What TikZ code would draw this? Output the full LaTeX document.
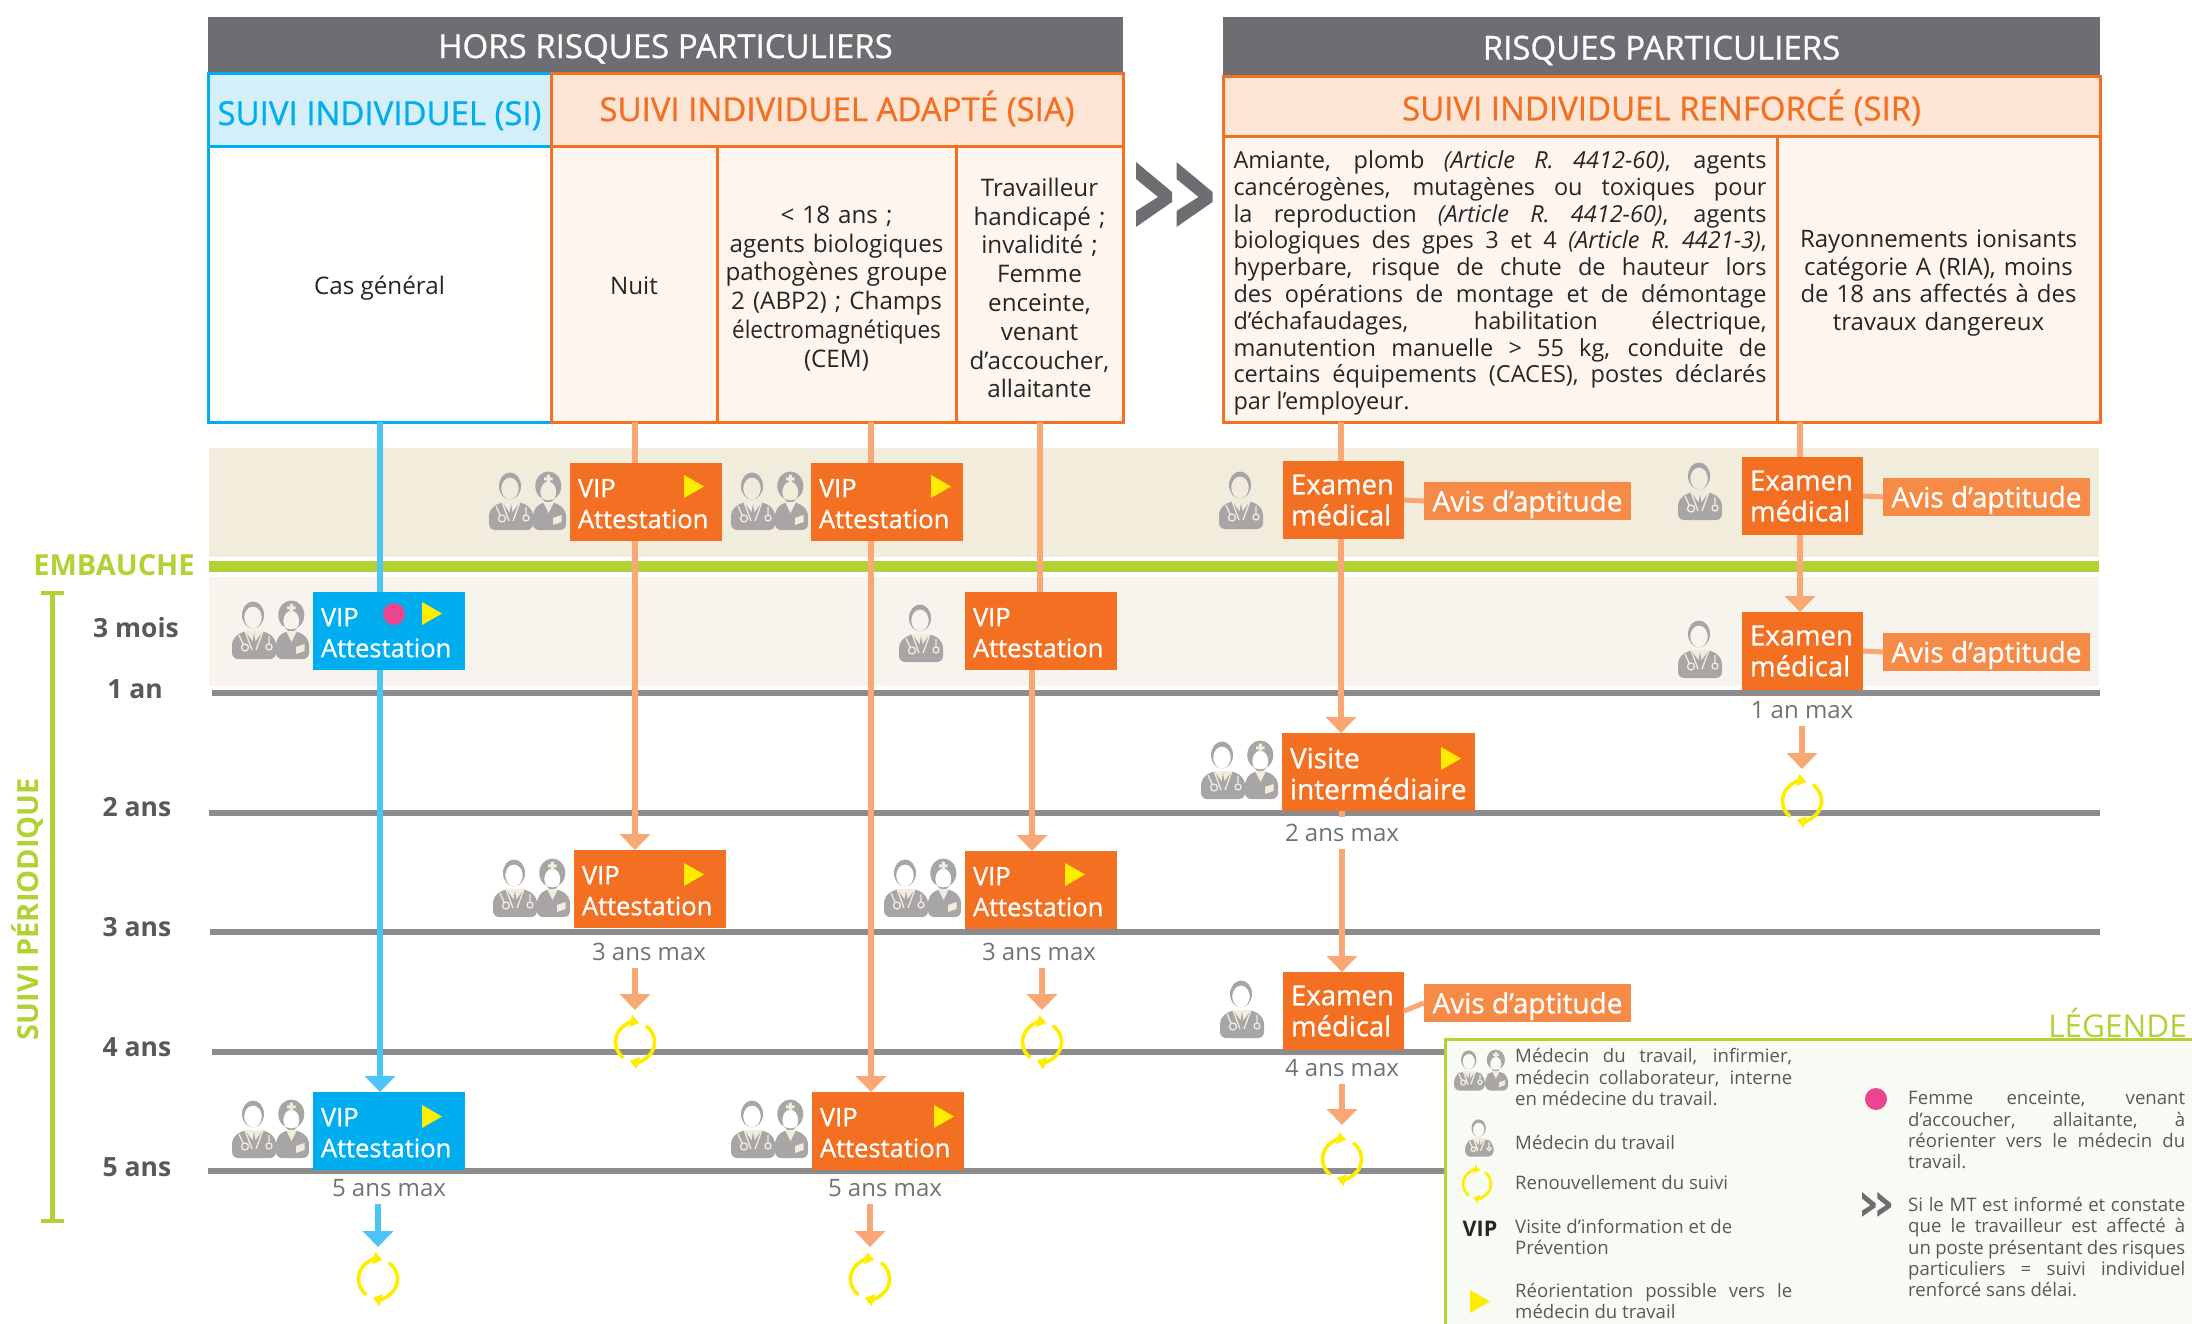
\documentclass[tikz,border=0pt]{standalone}
\usepackage{fontspec}
\setmainfont{Open Sans}
\newfontfamily\semi[FakeBold=0.8]{Open Sans}
\usetikzlibrary{arrows.meta}
\definecolor{greyhead}{HTML}{6D6E71}
\definecolor{orangeD}{HTML}{F36F21}
\definecolor{orangeM}{HTML}{F68B47}
\definecolor{orangeL}{HTML}{F9A875}
\definecolor{blueD}{HTML}{00AEEF}
\definecolor{blueL}{HTML}{4CC5F5}
\definecolor{blueP}{HTML}{D4EFFA}
\definecolor{creamA}{HTML}{F1ECDC}
\definecolor{creamB}{HTML}{F6F4EC}
\definecolor{peachA}{HTML}{FDE5D5}
\definecolor{peachB}{HTML}{FEF5EE}
\definecolor{greenL}{HTML}{B0D235}
\definecolor{legendbg}{HTML}{F8FBF3}
\definecolor{ruleG}{HTML}{8C8C8F}
\definecolor{iconG}{HTML}{A7A5A6}
\definecolor{textG}{HTML}{58595B}
\definecolor{markY}{HTML}{FFED00}
\definecolor{markP}{HTML}{EC4590}
\tikzset{
 lowtext/.style={execute at begin node={\rule{0pt}{#1em}}},
 headbox/.style={fill=greyhead,text=white,anchor=north west,inner sep=0pt,outer sep=0pt,lowtext=.93,font=\semi\fontsize{33}{38}\selectfont},
 cellbox/.style={draw=orangeD,line width=3pt,fill=peachB,text=black!85,anchor=north west,inner sep=0pt,outer sep=0pt,align=center,lowtext=1.05,font=\fontsize{24.2}{28.8}\selectfont},
 titlebox/.style={draw=orangeD,line width=3pt,fill=peachA,text=orangeD,anchor=north west,inner sep=0pt,outer sep=0pt,align=center,execute at begin node={\rule[-.29em]{0pt}{.93em}},font=\semi\fontsize{33}{38}\selectfont},
 vipbox/.style={fill=orangeD,text=white,anchor=north west,minimum width=152pt,minimum height=78pt,text width=136pt,inner sep=0pt,outer sep=0pt,align=left,lowtext=.85,font=\semi\fontsize{25.5}{31}\selectfont},
 exambox/.style={fill=orangeD,text=white,anchor=north west,minimum width=121pt,minimum height=78pt,text width=105pt,inner sep=0pt,outer sep=0pt,align=left,lowtext=.72,font=\semi\fontsize{27.5}{31}\selectfont},
 avisbox/.style={fill=orangeM,text=white,anchor=north west,minimum width=207pt,minimum height=38pt,inner sep=0pt,outer sep=0pt,lowtext=.98,font=\semi\fontsize{28}{31}\selectfont},
 maxlabel/.style={text=textG!85,inner sep=0pt,minimum height=32pt,font=\fontsize{24}{27}\selectfont},
 yearlabel/.style={text=textG,inner sep=0pt,font=\bfseries\fontsize{26.5}{30}\selectfont},
 legtext/.style={text=textG,anchor=west,inner sep=0pt,text width=277pt,align=justify,font=\fontsize{18.6}{21.3}\selectfont},
 orangeline/.style={draw=orangeL,line width=6pt},
 blueline/.style={draw=blueL,line width=6pt},
 orangearrow/.style={orangeline,-{Triangle[length=16pt,width=30pt]}},
 bluearrow/.style={blueline,-{Triangle[length=16pt,width=30pt]}},
 pics/playmark/.style={code={\fill[markY] (0,0)--(20,11.5)--(0,23)--cycle;}},
 pics/doctor/.style={code={
  \fill[iconG,even odd rule] (21,14) ellipse [x radius=11,y radius=13.5] (21,16.5) ellipse [x radius=8.8,y radius=11];
  \fill[iconG,rounded corners=6pt] (0,58)--(0,38)--(11,30)--(33,30)--(44,38)--(44,58)--cycle;
  \fill[creamA] (13,30)--(22,42)--(31,30)--cycle;
  \fill[iconG] (22,32)--(24,44)--(22,49)--(20,44)--cycle;
  \draw[creamA,line width=1.3pt] (13,30)--(20,49) (31,30)--(24,49) (7,34)--(11,43) (13,46.5) circle [radius=3.5] (37,35)--(37,42) (37,46) circle [radius=3];
 }},
 pics/nurse/.style={code={
  \fill[iconG,even odd rule] (18.3,14) ellipse [x radius=13,y radius=14.5] (18.3,20) ellipse [x radius=8,y radius=10.5];
  \fill[creamA] (16.8,2.5) rectangle (19.8,11) (14,5.3) rectangle (22.6,8.3);
  \fill[iconG,rounded corners=6pt] (3,58)--(3,38)--(12,30)--(25,30)--(36,38)--(36,58)--cycle;
  \fill[creamA] (13,30)--(18.5,41)--(24,30)--cycle;
  \fill[creamA] (23,46)--(31.5,43)--(31.5,50)--(23,53)--cycle;
 }},
 pics/staffpair/.style={code={
  \pic at (0,0) {doctor};
  \pic at (41,0) {nurse};
 }},
 pics/renew/.style={code={
  \draw[markY,line width=3.7pt,line cap=round,-{Triangle[length=9pt,width=12pt]}] (129:19.5) arc [start angle=129,end angle=283,radius=19.5];
  \draw[markY,line width=3.7pt,line cap=round,-{Triangle[length=9pt,width=12pt]}] (307:19.5) arc [start angle=307,end angle=466,radius=19.5];
 }},
 pics/renewkey/.style={code={
  \draw[markY,line width=2.6pt,line cap=round,-{Triangle[length=6pt,width=8.5pt]}] (129:14) arc [start angle=129,end angle=283,radius=14];
  \draw[markY,line width=2.6pt,line cap=round,-{Triangle[length=6pt,width=8.5pt]}] (307:14) arc [start angle=307,end angle=466,radius=14];
 }},
 pics/chevrons/.style={code={
  \fill[greyhead] (0,0)--(36,30)--(36,40)--(0,65)--(0,49)--(22,35)--(0,17)--cycle;
  \fill[greyhead] (40.5,0)--(76.5,30)--(76.5,40)--(40.5,65)--(40.5,49)--(62.5,35)--(40.5,17)--cycle;
 }},
}
\begin{document}
\begin{tikzpicture}[x=1pt,y=-1pt]
 \useasboundingbox (0,0) rectangle (2192,1324);
 \fill[creamA] (209,448) rectangle (2099,557);
 \fill[creamB] (209,577) rectangle (2099,686);
 \fill[greenL] (209,561) rectangle (2099,572);
 \fill[ruleG] (212,690) rectangle (2100,696);
 \fill[ruleG] (209,810) rectangle (2100,816);
 \fill[ruleG] (210,929) rectangle (2100,935);
 \fill[ruleG] (212,1049) rectangle (1445,1055);
 \fill[ruleG] (208,1168) rectangle (1445,1174);

 \node[headbox,minimum width=915pt,minimum height=57pt] (headA) at (208,17) {HORS RISQUES PARTICULIERS};
 \node[headbox,minimum width=877pt,minimum height=60pt] (headB) at (1223,17) {RISQUES PARTICULIERS};

 \node[titlebox,lowtext=1.17,draw=blueD,fill=blueP,text=blueD,minimum width=343pt,minimum height=73pt] (titleSI) at (208,74) {SUIVI INDIVIDUEL (SI)};
 \node[titlebox,minimum width=572pt,minimum height=73pt] (titleSIA) at (551,74) {SUIVI INDIVIDUEL ADAPTÉ (SIA)};
 \node[titlebox,lowtext=1.1,minimum width=877pt,minimum height=60pt] (titleSIR) at (1223,77) {SUIVI INDIVIDUEL RENFORCÉ (SIR)};

 \node[cellbox,draw=blueD,fill=white,minimum width=343pt,minimum height=275pt] (cellSI) at (208,147) {Cas général};
 \node[cellbox,execute at begin node={\rule[-.21em]{0pt}{.21em}},minimum width=166pt,minimum height=275pt] (cellA) at (551,147) {Nuit};
 \node[cellbox,text width=235pt,minimum width=239pt,minimum height=275pt] (cellB) at (717,147) {< 18 ans ;\\agents biologiques\\pathogènes groupe\\2 (ABP2) ; Champs\\\scalebox{.93}[1]{électromagnétiques}\\(CEM)};
 \node[cellbox,text width=163pt,minimum width=167pt,minimum height=275pt] (cellC) at (956,147) {Travailleur\\handicapé ;\\invalidité ;\\Femme\\enceinte,\\venant\\d’accoucher,\\allaitante};
 \node[cellbox,minimum width=554pt,minimum height=285pt,text width=533pt,align=justify,font=\fontsize{23.5}{26.8}\selectfont] (cellD) at (1223,137) {Amiante, plomb \textit{(Article R. 4412-60)}, agents\linebreak cancérogènes, mutagènes ou toxiques pour\linebreak la reproduction \textit{(Article R. 4412-60)}, agents\linebreak biologiques des gpes 3 et 4 \textit{(Article R. 4421-3)},\linebreak hyperbare, risque de chute de hauteur lors\linebreak des opérations de montage et de démontage\linebreak d’échafaudages, habilitation électrique,\linebreak manutention manuelle > 55 kg, conduite de\linebreak certains équipements (CACES), postes déclarés\linebreak par l’employeur.};
 \node[cellbox,text width=310pt,minimum width=323pt,minimum height=285pt,font=\fontsize{24}{27.5}\selectfont] (cellE) at (1777,137) {Rayonnements ionisants\\catégorie A (RIA), moins\\de 18 ans affectés à des\\travaux dangereux};

 \pic at (1136,162) {chevrons};

 \node[text=greenL,inner sep=0pt,font=\bfseries\fontsize{29}{32}\selectfont] (embauche) at (114,565) {EMBAUCHE};
 \node[yearlabel] (yearM) at (136,628) {3 mois};
 \node[yearlabel] (yearA) at (135,689) {1 an};
 \node[yearlabel] (yearB) at (137,807) {2 ans};
 \node[yearlabel] (yearC) at (137,927) {3 ans};
 \node[yearlabel] (yearD) at (137,1047) {4 ans};
 \node[yearlabel] (yearE) at (137,1167) {5 ans};
 \node[text=greenL,rotate=90,inner sep=0pt,font=\bfseries\fontsize{29}{32}\selectfont] (periode) at (27,909) {SUIVI PÉRIODIQUE};
 \coordinate (barT) at (52.5,593);
 \coordinate (barB) at (52.5,1221);
 \draw[greenL,line width=5pt] (barT) -- (barB);
 \draw[greenL,line width=4.5pt] ([xshift=-11.5pt]barT) -- ([xshift=11.5pt]barT);
 \draw[greenL,line width=4.5pt] ([xshift=-11.5pt]barB) -- ([xshift=11.5pt]barB);

 \node[vipbox] (vipA) at (570,463) {VIP\\Attestation};
 \node[vipbox] (vipB) at (811,463) {VIP\\Attestation};
 \node[vipbox,fill=blueD] (vipSI) at (313,592) {VIP\\Attestation};
 \node[vipbox] (vipC) at (965,592) {VIP\\Attestation};
 \node[vipbox] (vipD) at (574,850) {VIP\\Attestation};
 \node[vipbox] (vipE) at (965,851) {VIP\\Attestation};
 \node[vipbox,fill=blueD] (vipF) at (313,1092) {VIP\\Attestation};
 \node[vipbox] (vipG) at (812,1092) {VIP\\Attestation};
 \node[exambox] (examA) at (1283,461) {Examen\\médical};
 \node[exambox] (examB) at (1742,457) {Examen\\médical};
 \node[exambox] (examC) at (1742,612) {Examen\\médical};
 \node[exambox] (examD) at (1283,972) {Examen\\médical};
 \node[vipbox,minimum width=193pt,text width=177pt,font=\semi\fontsize{28}{31}\selectfont] (visite) at (1282,733) {Visite\\intermédiaire};
 \node[avisbox] (avisA) at (1424,482) {Avis d’aptitude};
 \node[avisbox] (avisB) at (1883,478) {Avis d’aptitude};
 \node[avisbox] (avisC) at (1883,633) {Avis d’aptitude};
 \node[avisbox] (avisD) at (1424,984) {Avis d’aptitude};

 \node[maxlabel] (maxE) at (1802,710) {1 an max};
 \node[maxlabel] (maxB) at (1342,833) {2 ans max};
 \node[maxlabel] (maxC) at (649,952) {3 ans max};
 \node[maxlabel] (maxF) at (1039,952) {3 ans max};
 \node[maxlabel] (maxD) at (1342,1068) {4 ans max};
 \node[maxlabel] (maxG) at (389,1188) {5 ans max};
 \node[maxlabel] (maxH) at (885,1188) {5 ans max};

 \coordinate (railSI) at (380,0);
 \coordinate (railA) at (635,0);
 \coordinate (railB) at (871,0);
 \coordinate (railC) at (1040,0);
 \coordinate (railC2) at (1032,0);
 \coordinate (railD) at (1341,0);
 \coordinate (railE) at (1800,0);
 \coordinate (renewA) at (378,1279);
 \coordinate (renewB) at (635,1042);
 \coordinate (renewC) at (870,1279);
 \coordinate (renewD) at (1042,1042);
 \coordinate (renewE) at (1342,1159);
 \coordinate (renewF) at (1802,801);

 \draw[blueline] (cellSI.south -| railSI) -- (vipSI.north -| railSI);
 \draw[bluearrow] (vipSI.south -| railSI) -- (vipF.north -| railSI);
 \draw[bluearrow] (maxG.south -| renewA) -- ([yshift=32pt]renewA);
 \draw[orangeline] (cellA.south -| railA) -- (vipA.north -| railA);
 \draw[orangearrow] (vipA.south -| railA) -- (vipD.north -| railA);
 \draw[orangearrow] (maxC.south -| renewB) -- ([yshift=32pt]renewB);
 \draw[orangeline] (cellB.south -| railB) -- (vipB.north -| railB);
 \draw[orangearrow] (vipB.south -| railB) -- (vipG.north -| railB);
 \draw[orangearrow] (maxH.south -| renewC) -- ([yshift=32pt]renewC);
 \draw[orangeline] (cellC.south -| railC) -- (vipC.north -| railC);
 \draw[orangearrow] (vipC.south -| railC2) -- (vipE.north -| railC2);
 \draw[orangearrow] (maxF.south -| renewD) -- ([yshift=32pt]renewD);
 \draw[orangeline] (cellD.south -| railD) -- (examA.north -| railD);
 \draw[orangearrow] (examA.south -| railD) -- (visite.north -| railD);
 \draw[orangeline] (visite.south -| maxB) -- (maxB.north);
 \draw[orangearrow] (maxB.south) -- (examD.north -| maxB);
 \draw[orangearrow] (maxD.south) -- ([yshift=34pt]renewE);
 \draw[orangeline] (cellE.south -| railE) -- (examB.north -| railE);
 \draw[orangearrow] (examB.south -| railE) -- (examC.north -| railE);
 \draw[orangearrow] (maxE.south) -- ([yshift=32pt]renewF);
 \draw[orangeline,line width=5pt] (examA.east) -- (avisA.west);
 \draw[orangeline,line width=5pt] (examB.east) -- (avisB.west);
 \draw[orangeline,line width=5pt] (examC.east) -- (avisC.west);
 \draw[orangeline,line width=5pt] (examD.east) -- (avisD.west);

 \pic at (684,475) {playmark};
 \pic at (931,475) {playmark};
 \pic at (422,602) {playmark};
 \pic at (684,863) {playmark};
 \pic at (1065,863) {playmark};
 \pic at (422,1105) {playmark};
 \pic at (934,1105) {playmark};
 \pic at (1441,747) {playmark};
 \fill[markP] (394,614) circle [radius=11];

 \pic at (489,472) {staffpair};
 \pic at (731,472) {staffpair};
 \pic at (232,601) {staffpair};
 \pic at (493,859) {staffpair};
 \pic at (884,859) {staffpair};
 \pic at (1201,741) {staffpair};
 \pic at (232,1100) {staffpair};
 \pic at (731,1100) {staffpair};
 \pic at (1219,471) {doctor};
 \pic at (1678,462) {doctor};
 \pic at (1678,620) {doctor};
 \pic at (899,604) {doctor};
 \pic at (1220,980) {doctor};

 \pic at (renewA) {renew};
 \pic at (renewB) {renew};
 \pic at (renewC) {renew};
 \pic at (renewD) {renew};
 \pic at (renewE) {renew};
 \pic at (renewF) {renew};

 \draw[greenL,line width=3pt,fill=legendbg] (1445,1039) rectangle (2210,1340);
 \node[text=greenL,anchor=base east,inner sep=0pt,font=\fontsize{31.5}{34}\selectfont] (legende) at (2187,1037) {LÉGENDE};
 \pic[scale=.7] at (1454,1050) {doctor};
 \pic[scale=.7] at (1483,1050) {nurse};
 \pic[scale=.65] at (1465,1119) {doctor};
 \pic at (1477,1184) {renewkey};
 \node[text=black!85,inner sep=0pt,font=\bfseries\fontsize{21.5}{24}\selectfont] (legvip) at (1480,1229) {VIP};
 \pic at (1470,1290) {playmark};
 \fill[markP] (1876,1099) circle [radius=11];
 \pic[scale=.38] at (1862,1192) {chevrons};
 \node[legtext] (legA) at (1515,1077) {Médecin du travail, infirmier,\linebreak médecin collaborateur, interne\linebreak en médecine du travail.};
 \node[legtext] (legB) at (1515,1142) {Médecin du travail};
 \node[legtext] (legC) at (1515,1183) {Renouvellement du suivi};
 \node[legtext] (legD) at (1515,1237) {Visite d’information et de\\Prévention};
 \node[legtext] (legE) at (1515,1301) {Réorientation possible vers le\linebreak médecin du travail};
 \node[legtext] (legF) at (1908,1130) {Femme enceinte, venant\linebreak d’accoucher, allaitante, à\linebreak réorienter vers le médecin du\linebreak travail.};
 \node[legtext] (legG) at (1908,1247) {Si le MT est informé et constate\linebreak que le travailleur est affecté à\linebreak un poste présentant des risques\linebreak particuliers = suivi individuel\linebreak renforcé sans délai.};
\end{tikzpicture}
\end{document}
